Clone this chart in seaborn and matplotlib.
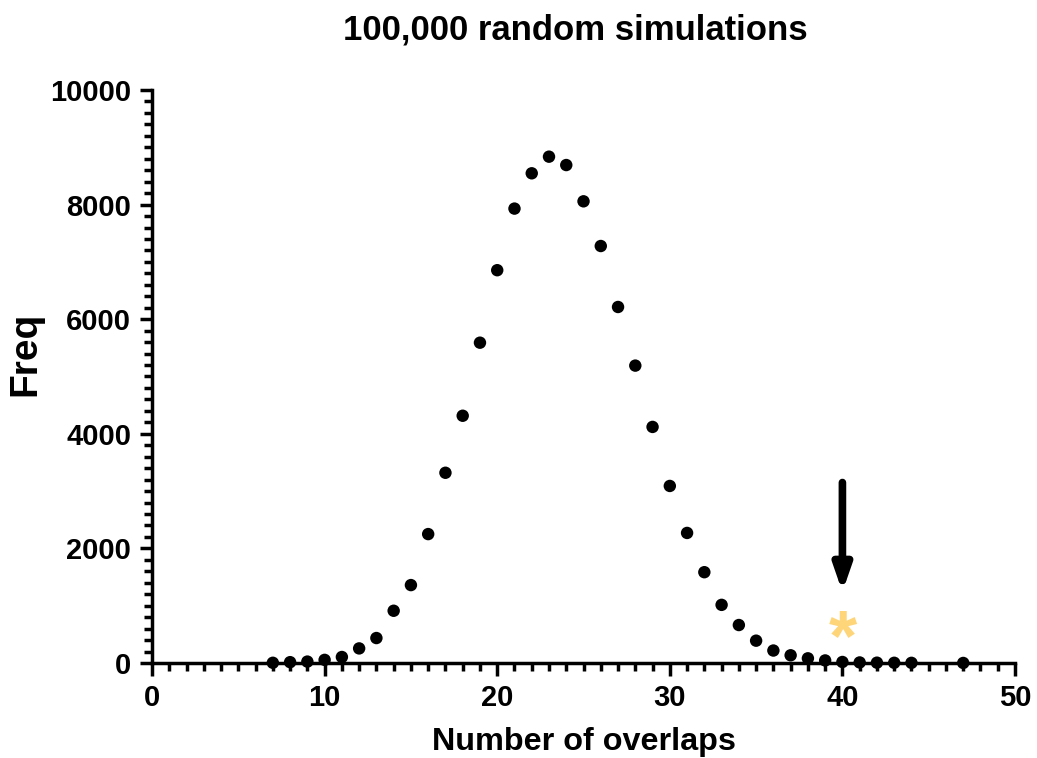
import seaborn as sns
import matplotlib.pyplot as plt
from matplotlib.ticker import MultipleLocator

# overlaps vs frequency
overlaps = [7, 8, 9, 10, 11, 12, 13, 14, 15, 16, 17, 18, 19, 20, 21, 22, 23, 24,
            25, 26, 27, 28, 29, 30, 31, 32, 33, 34, 35, 36, 37, 38, 39, 40, 41,
            42, 43, 44, 47]
freq = [4, 15, 25, 55, 105, 255, 436, 912, 1360, 2250, 3320, 4315, 5590, 6855,
        7930, 8546, 8836, 8690, 8057, 7277, 6213, 5190, 4120, 3090, 2270, 1585,
        1015, 663, 390, 218, 135, 82, 45, 18, 10, 6, 4, 3, 1]

observed_x = 40
observed_y = 520
arrow_top = 3150
arrow_tip = 1240

sns.set_style("ticks")
plt.rcParams["font.family"] = ["Liberation Sans", "DejaVu Sans"]
plt.rcParams["font.weight"] = "bold"
plt.rcParams["text.color"] = "black"
plt.rcParams["axes.labelcolor"] = "black"
plt.rcParams["xtick.color"] = "black"
plt.rcParams["ytick.color"] = "black"
plt.rcParams["axes.edgecolor"] = "black"

fig = plt.figure(figsize=(10.37, 7.58), dpi=100)
ax = fig.add_axes([0.1466, 0.1253, 0.8322, 0.756])

sns.scatterplot(x=overlaps, y=freq, ax=ax, color="black", s=80,
                edgecolor="none", clip_on=False, zorder=5)

ax.annotate("", xy=(observed_x, arrow_tip), xytext=(observed_x, arrow_top),
            arrowprops=dict(arrowstyle="-|>,head_width=0.26,head_length=0.75",
                            mutation_scale=20, lw=5.5, color="black",
                            capstyle="round", shrinkA=0, shrinkB=0))
ax.text(observed_x, observed_y, "*", color="#FFD57A", fontsize=52,
        fontweight="bold", ha="center", va="center_baseline")

ax.set_xlim(0, 50)
ax.set_ylim(0, 10000)
ax.xaxis.set_major_locator(MultipleLocator(10))
ax.xaxis.set_minor_locator(MultipleLocator(1))
ax.yaxis.set_major_locator(MultipleLocator(2000))
ax.yaxis.set_minor_locator(MultipleLocator(200))

sns.despine(ax=ax)
for side in ["left", "bottom"]:
    ax.spines[side].set_linewidth(2.5)
ax.tick_params(which="major", length=9, width=2.5, labelsize=21, pad=6)
ax.tick_params(which="minor", length=6, width=2.5)
for lab in ax.get_xticklabels() + ax.get_yticklabels():
    lab.set_fontweight("bold")

ax.set_title("100,000 random simulations", fontsize=25, fontweight="bold",
             pad=36, x=0.49)
ax.set_xlabel("Number of overlaps", fontsize=23.3, fontweight="bold", labelpad=11)
ax.set_ylabel("Freq", fontsize=28, fontweight="bold")
ax.yaxis.set_label_coords(-0.126, 0.54)

fig.savefig("out.png", dpi=100)
